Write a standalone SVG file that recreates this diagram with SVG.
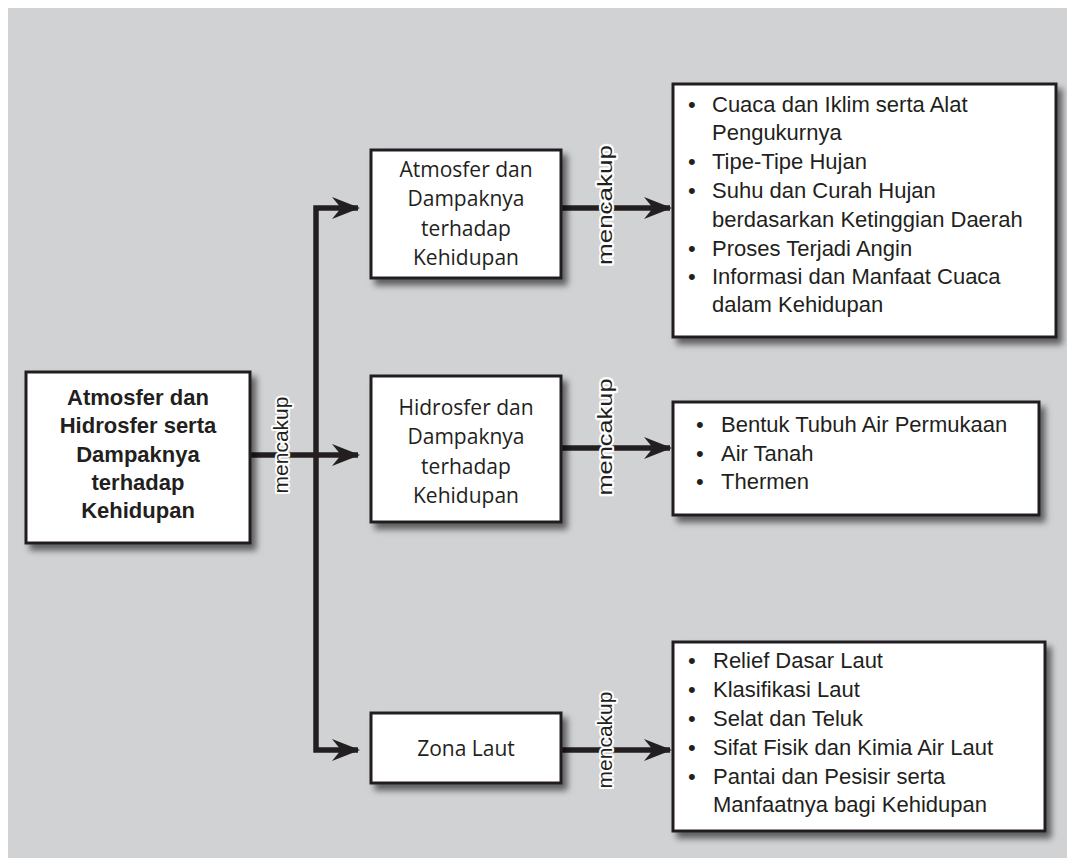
<svg xmlns="http://www.w3.org/2000/svg" width="1067" height="858" viewBox="0 0 1067 858">
<defs>
<filter id="sh" x="-10%" y="-10%" width="130%" height="140%">
<feDropShadow dx="5" dy="6" stdDeviation="3" flood-color="#000" flood-opacity="0.55"/>
</filter>
<marker id="ah" viewBox="0 0 28 22" refX="26" refY="11" markerWidth="28" markerHeight="22" markerUnits="userSpaceOnUse" orient="auto">
<path d="M0,0 L28,11 L0,22 L9,11 Z" fill="#231f20"/>
</marker>
</defs>
<style>
.box{fill:#fff;stroke:#231f20;stroke-width:3;filter:url(#sh)}
.mid{font-family:"Open Sans","Liberation Sans",sans-serif;font-size:21px;fill:#231f20;text-anchor:middle}
.main{font-family:"Liberation Sans",Arial,sans-serif;font-size:22px;font-weight:bold;fill:#231f20;text-anchor:middle}
.lst{font-family:"Liberation Sans",Arial,sans-serif;font-size:22px;fill:#231f20}
.lbl{font-family:"Liberation Sans",Arial,sans-serif;font-size:21px;fill:#231f20;text-anchor:middle;stroke:#fff;stroke-width:4;paint-order:stroke;stroke-linejoin:round}
.ln{fill:none;stroke:#231f20;stroke-width:5.5;stroke-linejoin:miter}
</style>
<rect x="0" y="0" width="1067" height="858" fill="#fff"/>
<rect x="8" y="8" width="1059" height="850" fill="#d1d2d4"/>

<g id="connectors">
<path class="ln" d="M250,455 H358" marker-end="url(#ah)"/>
<path class="ln" d="M316,455 V208 H358" marker-end="url(#ah)"/>
<path class="ln" d="M316,455 V750 H358" marker-end="url(#ah)"/>
<path class="ln" d="M562,208 H670" marker-end="url(#ah)"/>
<path class="ln" d="M562,448 H670" marker-end="url(#ah)"/>
<path class="ln" d="M562,750 H670" marker-end="url(#ah)"/>
<text class="lbl" transform="translate(288,445) rotate(-90)">mencakup</text>
<text class="lbl" transform="translate(612,205) rotate(-90)" textLength="120" lengthAdjust="spacingAndGlyphs">mencakup</text>
<text class="lbl" transform="translate(612,437) rotate(-90)" textLength="117" lengthAdjust="spacingAndGlyphs">mencakup</text>
<text class="lbl" transform="translate(612,740) rotate(-90)">mencakup</text>
</g>

<g id="main">
<rect class="box" x="26" y="372" width="224" height="171"/>
<text class="main" x="138" y="405">Atmosfer dan</text>
<text class="main" x="138" y="433">Hidrosfer serta</text>
<text class="main" x="138" y="462">Dampaknya</text>
<text class="main" x="138" y="490">terhadap</text>
<text class="main" x="138" y="518">Kehidupan</text>
</g>

<g id="atmosfer">
<rect class="box" x="371" y="150" width="190" height="128"/>
<text class="mid" x="466" y="177">Atmosfer dan</text>
<text class="mid" x="466" y="206">Dampaknya</text>
<text class="mid" x="466" y="236">terhadap</text>
<text class="mid" x="466" y="265">Kehidupan</text>
</g>

<g id="hidrosfer">
<rect class="box" x="371" y="376" width="190" height="146"/>
<text class="mid" x="466" y="415">Hidrosfer dan</text>
<text class="mid" x="466" y="444">Dampaknya</text>
<text class="mid" x="466" y="474">terhadap</text>
<text class="mid" x="466" y="503">Kehidupan</text>
</g>

<g id="zona">
<rect class="box" x="371" y="713" width="190" height="70"/>
<text class="mid" x="466" y="756">Zona Laut</text>
</g>

<g id="list-atmosfer">
<rect class="box" x="673" y="84" width="383" height="253"/>
<g class="lst">
<text x="688" y="112">•</text><text x="712" y="112">Cuaca dan Iklim serta Alat</text>
<text x="712" y="140">Pengukurnya</text>
<text x="688" y="169">•</text><text x="712" y="169">Tipe-Tipe Hujan</text>
<text x="688" y="198">•</text><text x="712" y="198">Suhu dan Curah Hujan</text>
<text x="712" y="227">berdasarkan Ketinggian Daerah</text>
<text x="688" y="256">•</text><text x="712" y="256">Proses Terjadi Angin</text>
<text x="688" y="284">•</text><text x="712" y="284">Informasi dan Manfaat Cuaca</text>
<text x="712" y="312">dalam Kehidupan</text>
</g>
</g>

<g id="list-hidrosfer">
<rect class="box" x="673" y="402" width="366" height="113"/>
<g class="lst">
<text x="696" y="432">•</text><text x="721" y="432">Bentuk Tubuh Air Permukaan</text>
<text x="696" y="461">•</text><text x="721" y="461">Air Tanah</text>
<text x="696" y="489">•</text><text x="721" y="489">Thermen</text>
</g>
</g>

<g id="list-zona">
<rect class="box" x="673" y="642" width="372" height="189"/>
<g class="lst">
<text x="688" y="668">•</text><text x="713" y="668">Relief Dasar Laut</text>
<text x="688" y="697">•</text><text x="713" y="697">Klasifikasi Laut</text>
<text x="688" y="726">•</text><text x="713" y="726">Selat dan Teluk</text>
<text x="688" y="755">•</text><text x="713" y="755">Sifat Fisik dan Kimia Air Laut</text>
<text x="688" y="784">•</text><text x="713" y="784">Pantai dan Pesisir serta</text>
<text x="713" y="812">Manfaatnya bagi Kehidupan</text>
</g>
</g>
</svg>
